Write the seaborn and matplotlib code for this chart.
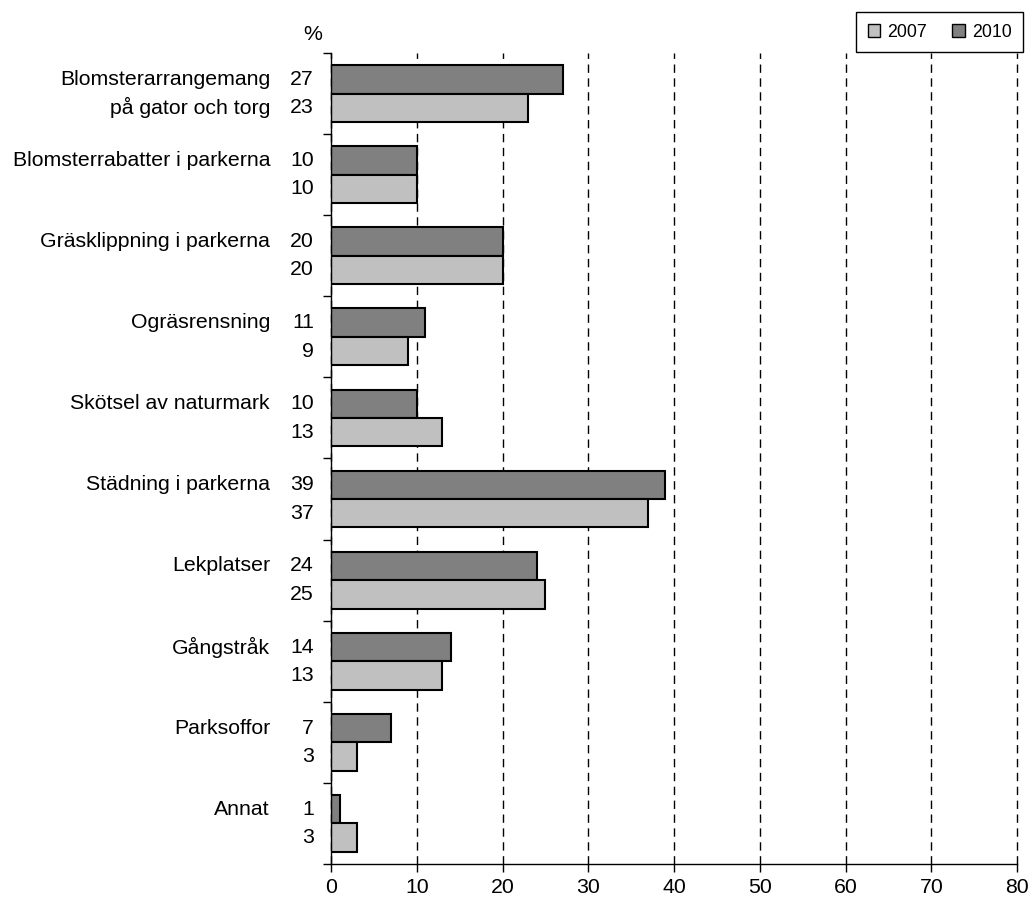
import matplotlib
matplotlib.use("Agg")
import matplotlib.pyplot as plt
import matplotlib.transforms as mtransforms
from matplotlib.patches import Patch
import numpy as np
import pandas as pd
import seaborn as sns

# Data
categories = [
    "Blomsterarrangemang\npå gator och torg",
    "Blomsterrabatter i parkerna",
    "Gräsklippning i parkerna",
    "Ogräsrensning",
    "Skötsel av naturmark",
    "Städning i parkerna",
    "Lekplatser",
    "Gångstråk",
    "Parksoffor",
    "Annat",
]
values_2007 = [23, 10, 20, 9, 13, 37, 25, 13, 3, 3]
values_2010 = [27, 10, 20, 11, 10, 39, 24, 14, 7, 1]
years = ["2007", "2010"]
x_ticks = [0, 10, 20, 30, 40, 50, 60, 70, 80]

colors = {"2007": "#c0c0c0", "2010": "#808080"}

df = pd.DataFrame({
    "Kategori": categories * 2,
    "År": ["2007"] * len(categories) + ["2010"] * len(categories),
    "Procent": values_2007 + values_2010,
})

sns.set_style("ticks")
plt.rcParams["font.family"] = ["Liberation Sans", "DejaVu Sans"]
plt.rcParams["text.color"] = "black"
plt.rcParams["xtick.color"] = "black"
plt.rcParams["ytick.color"] = "black"

FS = 15.3

fig = plt.figure(figsize=(10.3, 9.05), dpi=100)
ax = fig.add_axes([331 / 1030, 1 - 864 / 905, 686 / 1030, 811 / 905])

sns.barplot(data=df, y="Kategori", x="Procent", hue="År",
            hue_order=["2010", "2007"], palette=colors, orient="h",
            width=0.7, saturation=1, errorbar=None, edgecolor="black",
            linewidth=1.5, legend=False, ax=ax)

ax.set_xlim(0, 80)
ax.set_xticks(x_ticks)
ax.tick_params(axis="x", labelsize=FS, length=6, width=1, direction="out",
               pad=4, color="black", labelcolor="black", bottom=True)
ax.set_yticks(np.arange(-0.5, len(categories), 1))
ax.set_yticklabels([])
ax.tick_params(axis="y", length=6, width=1, direction="out", left=True,
               color="black")
ax.set_ylim(len(categories) - 0.5, -0.5)
ax.set_xlabel("")
ax.set_ylabel("")

ax.xaxis.grid(True, linestyle=(0, (6, 4)), color="black", linewidth=1)
ax.set_axisbelow(True)
for line in ax.get_xgridlines():
    line.set_clip_on(False)
for side in ["top", "right"]:
    ax.spines[side].set_visible(False)
for side in ["left", "bottom"]:
    ax.spines[side].set_color("black")
    ax.spines[side].set_linewidth(1)

# value and category labels beside the bars
trans = mtransforms.blended_transform_factory(ax.transAxes, ax.transData)
bars_2010, bars_2007 = ax.containers[0], ax.containers[1]
for i, cat in enumerate(categories):
    y10 = bars_2010[i].get_y() + bars_2010[i].get_height() / 2
    y07 = bars_2007[i].get_y() + bars_2007[i].get_height() / 2
    ax.text(-0.0248, y10, str(values_2010[i]), transform=trans,
            ha="right", va="center", fontsize=FS)
    ax.text(-0.0248, y07, str(values_2007[i]), transform=trans,
            ha="right", va="center", fontsize=FS)
    lines = cat.split("\n")
    ax.text(-0.0889, y10, lines[0], transform=trans,
            ha="right", va="center", fontsize=FS)
    if len(lines) > 1:
        ax.text(-0.0889, y07, lines[1], transform=trans,
                ha="right", va="center", fontsize=FS)

fig.text(313 / 1030, 1 - 34 / 905, "%", ha="center", va="center", fontsize=FS)

handles = [Patch(facecolor=colors[y], edgecolor="black", label=y) for y in years]
leg = fig.legend(handles=handles, loc="upper right",
                 bbox_to_anchor=(1023 / 1030, 1 - 12 / 905), ncol=2,
                 borderaxespad=0, frameon=True, fancybox=False,
                 edgecolor="black", fontsize=12.8, handlelength=0.7,
                 handleheight=0.7, handletextpad=0.4, columnspacing=1.4,
                 borderpad=0.65)
leg.get_frame().set_linewidth(1)
leg.get_frame().set_alpha(1)

fig.savefig("out.png", dpi=100)
